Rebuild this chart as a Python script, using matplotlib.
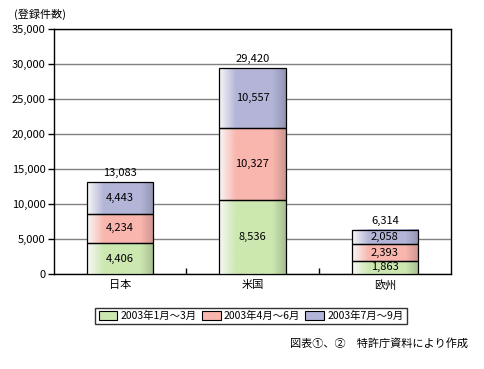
import numpy as np
import matplotlib
matplotlib.use("Agg")
import matplotlib.pyplot as plt
from matplotlib.colors import to_rgb
from matplotlib.patches import Patch

plt.rcParams['font.family'] = ['Noto Sans CJK JP', 'DejaVu Sans']

categories = ["日本", "米国", "欧州"]
series_names = ["2003年1月～3月", "2003年4月～6月", "2003年7月～9月"]
# segment heights as drawn in the picture
q1 = [4406, 10557, 1863]
q2 = [4234, 10327, 2393]
q3 = [4443, 8536, 2058]
# numbers printed inside the segments
q1_labels = ["4,406", "8,536", "1,863"]
q2_labels = ["4,234", "10,327", "2,393"]
q3_labels = ["4,443", "10,557", "2,058"]
totals = [13083, 29420, 6314]
colors = ["#CCE8B0", "#F9B6AE", "#B3B5D8"]

W, H = 484, 369
fig = plt.figure(figsize=(W / 100, H / 100), dpi=100)
ax = fig.add_axes([54 / W, 1 - 274 / H, (451 - 54) / W, (274 - 29) / H])

x = np.arange(len(categories))
bw = 0.5


def gradient_img(color):
    base = np.array(to_rgb(color))
    n = 100
    t = np.linspace(0, 1, n)
    img = np.zeros((1, n, 3))
    for i, v in enumerate(t):
        if v < 0.25:
            f = v / 0.25
            c = (1 - f) * np.ones(3) * 0.97 + f * base
        elif v > 0.8:
            f = (v - 0.8) / 0.2
            c = base * (1 - 0.18 * f)
        else:
            c = base
        img[0, i] = c
    return img


bottom = np.zeros(3)
for vals, labels, col in zip([q1, q2, q3], [q1_labels, q2_labels, q3_labels], colors):
    bars = ax.bar(x, vals, bw, bottom=bottom, facecolor="none",
                  edgecolor="black", linewidth=0.9, zorder=4)
    img = gradient_img(col)
    for rect, lab in zip(bars.patches, labels):
        x0, y0 = rect.get_x(), rect.get_y()
        ax.imshow(img, extent=[x0, x0 + rect.get_width(), y0, y0 + rect.get_height()],
                  aspect="auto", zorder=3, interpolation="bilinear")
        ax.text(x0 + rect.get_width() / 2, y0 + rect.get_height() / 2,
                lab, ha="center", va="center", fontsize=8, zorder=5)
    bottom += np.array(vals)

for xi, t, b in zip(x, totals, bottom):
    ax.annotate(f"{t:,}", (xi, b), xytext=(0, 3), textcoords="offset points",
                ha="center", va="bottom", fontsize=8)

ax.set_xlim(-0.5, 2.5)
ax.set_ylim(0, 35000)
ax.set_yticks(np.arange(0, 35001, 5000))
ax.set_yticklabels([f"{v:,}" for v in range(0, 35001, 5000)], fontsize=8)
ax.yaxis.grid(True, color="#808080", linewidth=1)
ax.set_axisbelow(True)
ax.set_xticks(x)
ax.set_xticklabels(categories, fontsize=8)
ax.tick_params(axis="x", length=0, pad=4)
ax.tick_params(axis="y", length=4, width=1, pad=2)
ax.set_xticks([0.5, 1.5], minor=True)
ax.tick_params(axis="x", which="minor", direction="in", length=4, width=1)
for s in ax.spines.values():
    s.set_color("black")
    s.set_linewidth(1)

fig.text(14 / W, 1 - 14 / H, "(登録件数)", fontsize=8, ha="left", va="center")

handles = [Patch(facecolor=c, edgecolor="black", linewidth=0.8) for c in colors]
leg = fig.legend(handles, series_names, loc="center", bbox_to_anchor=(251 / W, 1 - 316 / H),
                 ncol=3, fontsize=7.5, frameon=True, fancybox=False, borderpad=0.3,
                 handlelength=1.8, handleheight=0.9, handletextpad=0.3, columnspacing=0.5,
                 borderaxespad=0)
leg.get_frame().set_edgecolor("black")
leg.get_frame().set_linewidth(1)

fig.text(468 / W, 1 - 343 / H, "図表①、②　特許庁資料により作成", fontsize=8, ha="right", va="center")

fig.savefig("out.png", dpi=100)
